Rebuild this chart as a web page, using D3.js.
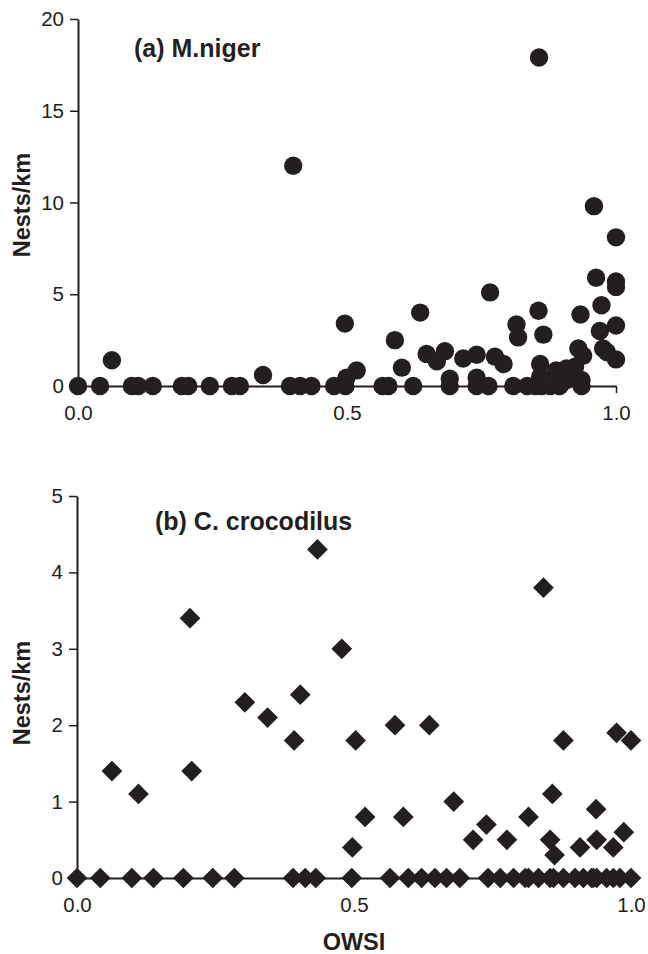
<!DOCTYPE html>
<html>
<head>
<meta charset="utf-8">
<script src="https://cdn.jsdelivr.net/npm/d3@7"></script>
<style>
  body { margin: 0; background: #fff; }
  svg text { font-family: "Liberation Sans", Arial, sans-serif; fill: #231f20; }
</style>
</head>
<body>
<div id="chart"></div>
<script>
// Panel (a) M.niger: OWSI vs nests per km
const nigerOwsi = [
  0, 0.041, 0.10, 0.112, 0.139, 0.193, 0.205, 0.245, 0.286, 0.301, 0.394, 0.413, 0.434, 0.476, 0.497,
  0.566, 0.577, 0.623, 0.691, 0.741, 0.763, 0.809, 0.835, 0.85, 0.862, 0.878, 0.895, 0.936,
  0.063, 0.344, 0.40, 0.496, 0.499, 0.518, 0.589, 0.602, 0.636, 0.648, 0.667, 0.682, 0.691,
  0.716, 0.741, 0.741, 0.766, 0.775, 0.791, 0.815, 0.818, 0.856, 0.857, 0.865, 0.859, 0.859,
  0.865, 0.889, 0.908, 0.908, 0.924, 0.930, 0.934, 0.939, 0.936, 0.959, 0.963, 0.970, 0.973,
  0.976, 0.983, 1.0, 1.0, 1.0, 1.0, 1.0
];
const nigerNests = [
  0, 0, 0, 0, 0, 0, 0, 0, 0, 0, 0, 0, 0, 0, 0,
  0, 0, 0, 0, 0, 0, 0, 0, 0, 0, 0, 0, 0,
  1.4, 0.6, 12.0, 3.4, 0.45, 0.85, 2.5, 1.0, 4.0, 1.75, 1.35, 1.9, 0.4,
  1.5, 1.7, 0.45, 5.1, 1.6, 1.2, 3.35, 2.65, 4.1, 17.9, 2.8, 1.2, 0.5,
  0.15, 0.85, 0.95, 0.33, 1.05, 2.05, 3.9, 1.65, 0.33, 9.8, 5.9, 3.0, 4.4,
  2.05, 1.85, 8.1, 5.7, 5.4, 3.3, 1.45
];

// Panel (b) C. crocodilus
const crocOwsi = [
  0, 0.042, 0.099, 0.138, 0.192, 0.245, 0.284, 0.39, 0.412, 0.431, 0.496,
  0.565, 0.598, 0.622, 0.646, 0.667, 0.691, 0.742, 0.764, 0.788, 0.809, 0.815, 0.833,
  0.854, 0.86, 0.878, 0.899, 0.914, 0.929, 0.932, 0.938, 0.956, 0.968, 0.98, 1.0,
  0.063, 0.111, 0.204, 0.207, 0.303, 0.344, 0.403, 0.392, 0.434, 0.478, 0.842,
  0.503, 0.574, 0.636, 0.878, 0.974, 1.0, 0.52, 0.589, 0.497, 0.68, 0.739, 0.715,
  0.776, 0.815, 0.858, 0.854, 0.862, 0.908, 0.937, 0.938, 0.968, 0.987
];
const crocNests = [
  0, 0, 0, 0, 0, 0, 0, 0, 0, 0, 0,
  0, 0, 0, 0, 0, 0, 0, 0, 0, 0, 0, 0,
  0, 0, 0, 0, 0, 0, 0, 0, 0, 0, 0, 0,
  1.4, 1.1, 3.4, 1.4, 2.3, 2.1, 2.4, 1.8, 4.3, 3.0, 3.8,
  1.8, 2.0, 2.0, 1.8, 1.9, 1.8, 0.8, 0.8, 0.4, 1.0, 0.7, 0.5,
  0.5, 0.8, 1.1, 0.5, 0.3, 0.4, 0.9, 0.5, 0.4, 0.6
];

const xTicks = [0, 0.5, 1];
const nigerTicks = [0, 5, 10, 15, 20];
const crocTicks = [0, 1, 2, 3, 4, 5];

const ink = "#231f20";
const width = 648, height = 954;

const svg = d3.select("#chart").append("svg")
  .attr("width", width)
  .attr("height", height);

// Draw one scatter panel
function drawPanel(opts) {
  const x = d3.scaleLinear().domain([0, 1]).range([opts.left, opts.right]);
  const y = d3.scaleLinear().domain([0, opts.yMax]).range([opts.bottom, opts.top]);

  const data = opts.xs.map((v, i) => ({ x: v, y: opts.ys[i] }));

  // Y axis
  const gy = svg.append("g")
    .attr("transform", `translate(${opts.left},0)`)
    .call(d3.axisLeft(y).tickValues(opts.yTicks).tickFormat(d3.format("d"))
      .tickSize(8).tickSizeOuter(0).tickPadding(6));

  // X axis
  const gx = svg.append("g")
    .attr("transform", `translate(0,${opts.bottom})`)
    .call(d3.axisBottom(x).tickValues(xTicks).tickFormat(d3.format(".1f"))
      .tickSize(7).tickSizeOuter(0).tickPadding(12));

  [gx, gy].forEach(g => {
    g.select(".domain").attr("stroke", ink).attr("stroke-width", 2);
    g.selectAll(".tick line").attr("stroke", ink).attr("stroke-width", 1.5);
    g.selectAll(".tick text").attr("font-size", 20.5).attr("fill", ink)
      .attr("font-family", "'Liberation Sans', Arial, sans-serif");
  });

  // Y axis title
  svg.append("text")
    .attr("transform", `translate(30,${opts.labelY}) rotate(-90)`)
    .attr("text-anchor", "middle")
    .attr("font-size", 23.5)
    .attr("font-weight", "bold")
    .text("Nests/km");

  // Panel title
  svg.append("text")
    .attr("x", opts.titleX)
    .attr("y", opts.titleY)
    .attr("font-size", 25)
    .attr("font-weight", "bold")
    .text(opts.title);

  // Markers
  if (opts.shape === "circle") {
    svg.append("g").selectAll("circle")
      .data(data)
      .enter()
      .append("circle")
      .attr("cx", d => x(d.x))
      .attr("cy", d => y(d.y))
      .attr("r", 9.2)
      .attr("fill", ink);
  } else {
    const diamond = d3.symbol().type(d3.symbolSquare).size(215);
    svg.append("g").selectAll("path")
      .data(data)
      .enter()
      .append("path")
      .attr("d", diamond)
      .attr("transform", d => `translate(${x(d.x)},${y(d.y)}) rotate(45)`)
      .attr("fill", ink);
  }
  return x;
}

drawPanel({
  xs: nigerOwsi, ys: nigerNests, yMax: 20, yTicks: nigerTicks,
  left: 78, right: 616, top: 19, bottom: 386,
  shape: "circle", title: "(a) M.niger", titleX: 134, titleY: 57, labelY: 205
});

const xb = drawPanel({
  xs: crocOwsi, ys: crocNests, yMax: 5, yTicks: crocTicks,
  left: 77, right: 631, top: 496, bottom: 878,
  shape: "diamond", title: "(b) C. crocodilus", titleX: 155, titleY: 530, labelY: 693
});

// X axis title
svg.append("text")
  .attr("x", xb(0.5))
  .attr("y", 950)
  .attr("text-anchor", "middle")
  .attr("font-size", 23.5)
  .attr("font-weight", "bold")
  .text("OWSI");
</script>
</body>
</html>
